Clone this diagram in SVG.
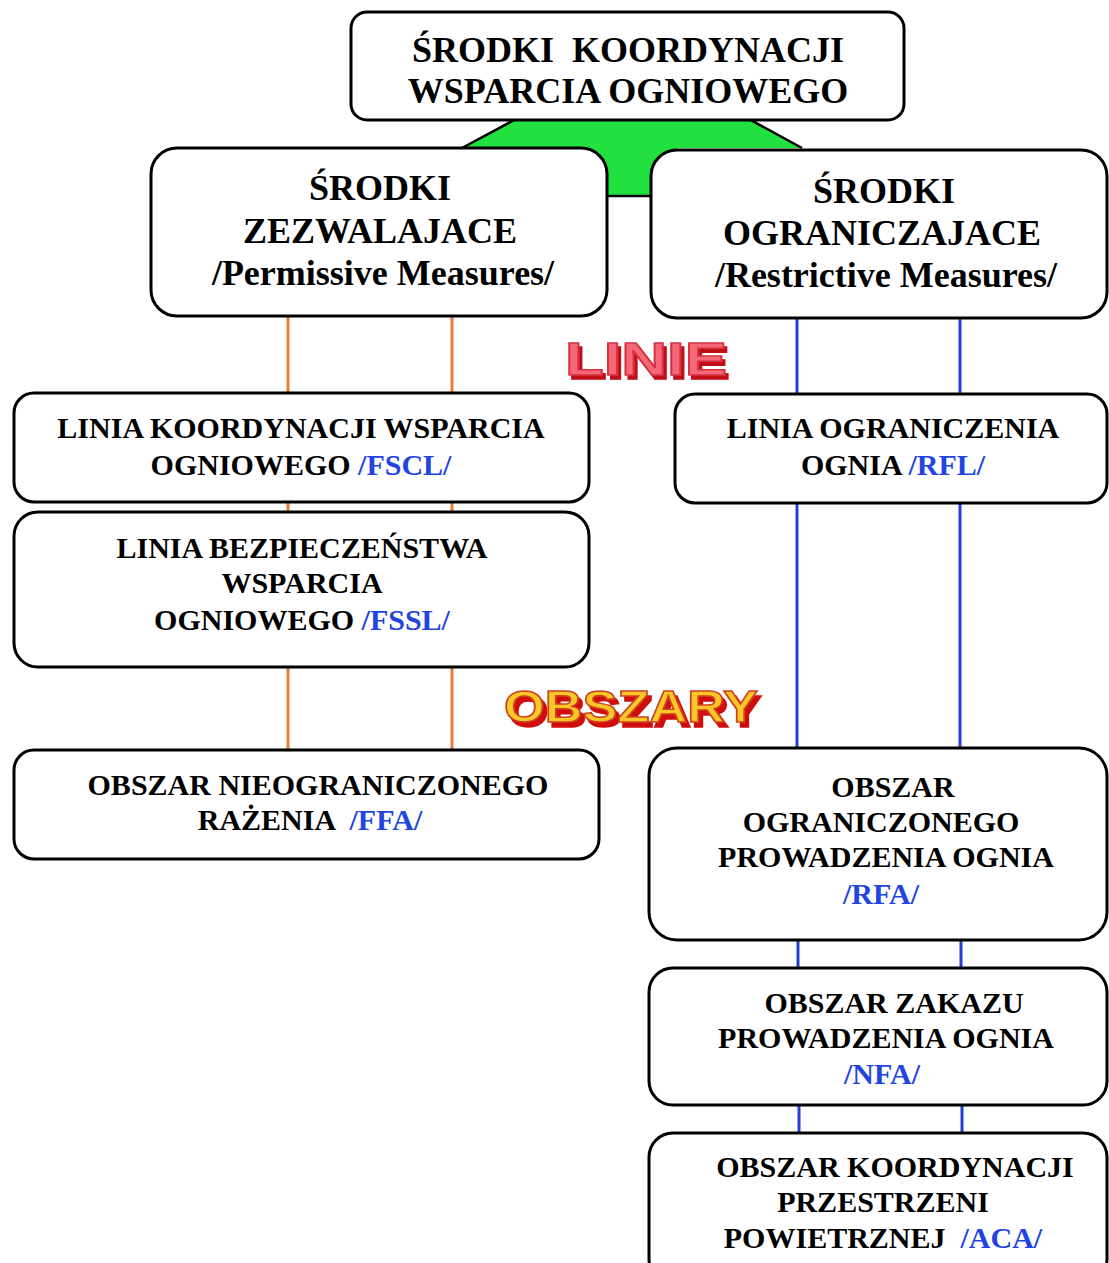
<svg xmlns="http://www.w3.org/2000/svg" width="1109" height="1263" viewBox="0 0 1109 1263">
<defs>
<filter id="shR" x="-10%" y="-20%" width="130%" height="160%">
<feOffset in="SourceAlpha" dx="3" dy="4" result="o"/>
<feFlood flood-color="#c00818"/>
<feComposite in2="o" operator="in" result="s"/>
<feMerge><feMergeNode in="s"/><feMergeNode in="SourceGraphic"/></feMerge>
</filter>
<filter id="shY" x="-10%" y="-20%" width="130%" height="160%">
<feOffset in="SourceAlpha" dx="4" dy="5" result="o"/>
<feFlood flood-color="#d01010"/>
<feComposite in2="o" operator="in" result="s"/>
<feMerge><feMergeNode in="s"/><feMergeNode in="SourceGraphic"/></feMerge>
</filter>
</defs>
<style>
.box{fill:#fff;stroke:#000;stroke-width:3}
.t{font-family:"Liberation Serif","Times New Roman",serif;font-weight:bold;fill:#000;text-anchor:middle;white-space:pre}
.big{font-size:36px}
.sm{font-size:30px}
.b{fill:#2244e0}
.or{stroke:#f07838;stroke-width:3}
.bl{stroke:#2040d8;stroke-width:3}
.h{font-family:"Liberation Sans",Arial,sans-serif;font-weight:bold;white-space:pre}
</style>
<rect width="1109" height="1263" fill="#fff"/>
<g id="connectors">
<path d="M518 118 L747 118 L802 148 L677 148 L677 196 L581 196 L581 148 L462 148 Z" fill="#22e040"/>
<path d="M462 148 L518 118 M747 118 L802 148 M606 196 L652 196" fill="none" stroke="#000" stroke-width="2.5"/>
<line class="or" x1="288" y1="316" x2="288" y2="394"/>
<line class="or" x1="452" y1="316" x2="452" y2="394"/>
<line class="or" x1="288" y1="502" x2="288" y2="512"/>
<line class="or" x1="452" y1="502" x2="452" y2="512"/>
<line class="or" x1="288" y1="667" x2="288" y2="750"/>
<line class="or" x1="452" y1="667" x2="452" y2="750"/>
<line class="bl" x1="797" y1="318" x2="797" y2="394"/>
<line class="bl" x1="960" y1="318" x2="960" y2="394"/>
<line class="bl" x1="797" y1="503" x2="797" y2="748"/>
<line class="bl" x1="960" y1="503" x2="960" y2="748"/>
<line class="bl" x1="798" y1="940" x2="798" y2="968"/>
<line class="bl" x1="961" y1="940" x2="961" y2="968"/>
<line class="bl" x1="799" y1="1105" x2="799" y2="1133"/>
<line class="bl" x1="962" y1="1105" x2="962" y2="1133"/>
</g>
<g id="top">
<rect class="box" x="351" y="12" width="553" height="108" rx="16"/>
<text class="t big" x="628" y="62">ŚRODKI  KOORDYNACJI</text>
<text class="t big" x="628" y="103">WSPARCIA OGNIOWEGO</text>
</g>
<g id="permissive">
<rect class="box" x="151" y="148" width="456" height="168" rx="26"/>
<text class="t big" x="380" y="200">ŚRODKI</text>
<text class="t big" x="380" y="243">ZEZWALAJACE</text>
<text class="t big" x="383" y="285">/Permissive Measures/</text>
</g>
<g id="restrictive">
<rect class="box" x="651" y="150" width="456" height="168" rx="26"/>
<text class="t big" x="884" y="203">ŚRODKI</text>
<text class="t big" x="882" y="245">OGRANICZAJACE</text>
<text class="t big" x="886" y="287">/Restrictive Measures/</text>
</g>
<g id="linie">
<text class="h" x="565" y="375" font-size="47" textLength="162" lengthAdjust="spacingAndGlyphs" fill="#f46878" stroke="#d83040" stroke-width="1.5" filter="url(#shR)">LINIE</text>
</g>
<g id="obszary">
<text class="h" x="504" y="722" font-size="45" textLength="254" lengthAdjust="spacingAndGlyphs" fill="#f8c828" stroke="#d04020" stroke-width="1.5" filter="url(#shY)">OBSZARY</text>
</g>
<g id="fscl">
<rect class="box" x="14" y="393" width="575" height="109" rx="20"/>
<text class="t sm" x="301" y="438">LINIA KOORDYNACJI WSPARCIA</text>
<text class="t sm" x="301" y="475">OGNIOWEGO <tspan class="b">/FSCL/</tspan></text>
</g>
<g id="fssl">
<rect class="box" x="14" y="512" width="575" height="155" rx="24"/>
<text class="t sm" x="302" y="558">LINIA BEZPIECZEŃSTWA</text>
<text class="t sm" x="302" y="593">WSPARCIA</text>
<text class="t sm" x="302" y="630">OGNIOWEGO <tspan class="b">/FSSL/</tspan></text>
</g>
<g id="rfl">
<rect class="box" x="675" y="394" width="432" height="109" rx="20"/>
<text class="t sm" x="893" y="438">LINIA OGRANICZENIA</text>
<text class="t sm" x="893" y="475">OGNIA <tspan class="b">/RFL/</tspan></text>
</g>
<g id="ffa">
<rect class="box" x="14" y="750" width="585" height="109" rx="20"/>
<text class="t sm" x="318" y="795">OBSZAR NIEOGRANICZONEGO</text>
<text class="t sm" x="310" y="830">RAŻENIA  <tspan class="b">/FFA/</tspan></text>
</g>
<g id="rfa">
<rect class="box" x="649" y="748" width="458" height="192" rx="28"/>
<text class="t sm" x="893" y="797">OBSZAR</text>
<text class="t sm" x="881" y="832">OGRANICZONEGO</text>
<text class="t sm" x="886" y="867">PROWADZENIA OGNIA</text>
<text class="t sm b" x="881" y="904">/RFA/</text>
</g>
<g id="nfa">
<rect class="box" x="649" y="968" width="458" height="137" rx="24"/>
<text class="t sm" x="894" y="1013">OBSZAR ZAKAZU</text>
<text class="t sm" x="886" y="1048">PROWADZENIA OGNIA</text>
<text class="t sm b" x="882" y="1084">/NFA/</text>
</g>
<g id="aca">
<rect class="box" x="649" y="1133" width="458" height="150" rx="24"/>
<text class="t sm" x="895" y="1177">OBSZAR KOORDYNACJI</text>
<text class="t sm" x="883" y="1212">PRZESTRZENI</text>
<text class="t sm" x="883" y="1248">POWIETRZNEJ  <tspan class="b">/ACA/</tspan></text>
</g>
</svg>
